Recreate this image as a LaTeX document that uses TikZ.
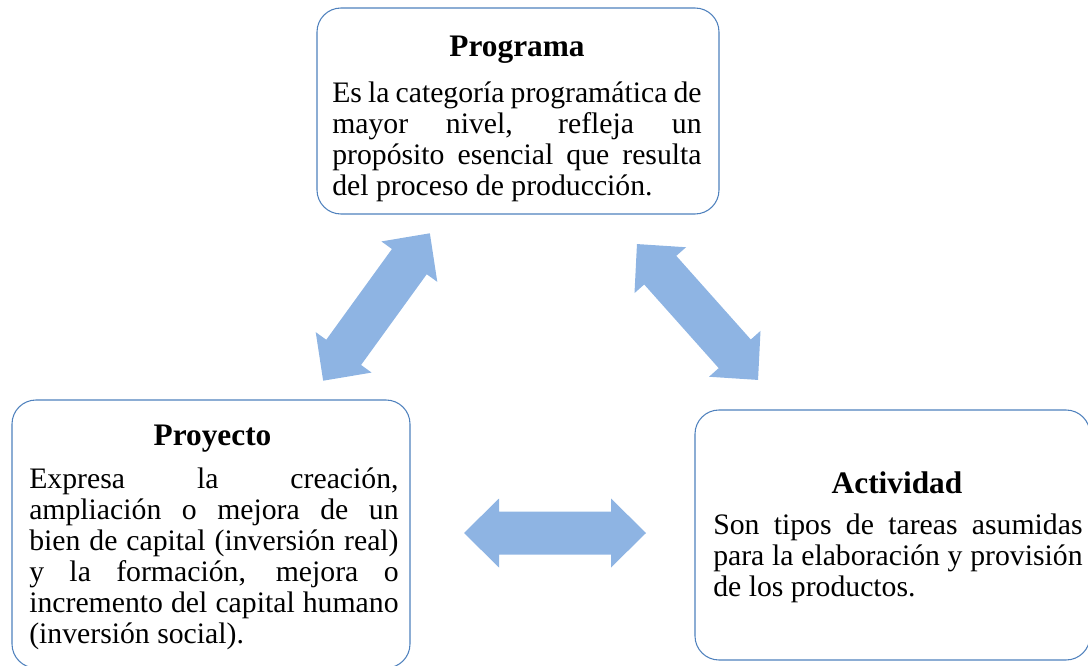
\documentclass[tikz,border=0pt]{standalone}
\usepackage{fontspec}
\setmainfont{Liberation Serif}
\usetikzlibrary{positioning}

\definecolor{bordeazul}{RGB}{79,129,189}
\definecolor{flechaazul}{RGB}{142,180,227}

\newcommand{\titulofont}{\fontsize{23.5}{28}\selectfont\bfseries}
\newcommand{\cuerpofont}{\fontsize{22.3}{23.25}\selectfont\hyphenpenalty=10000}

\begin{document}
\begin{tikzpicture}[
x=0.75pt, y=-0.75pt,
dblarrow/.pic={
	\fill[flechaazul] (-91,0) -- (-56,-34.5) -- (-56,-21.5) -- (56,-21.5) -- (56,-34.5)
	-- (91,0) -- (56,34.5) -- (56,21.5) -- (-56,21.5) -- (-56,34.5) -- cycle;
}
]

\tikzstyle{caja} = [draw=bordeazul, line width=0.8pt, rounded corners=18pt, shape=rectangle, inner sep=0pt]
\tikzstyle{titulo} = [font=\titulofont, inner sep=0pt, anchor=base]
\tikzstyle{cuerpo} = [font=\cuerpofont, text width=277pt, align=justify, inner sep=0pt, anchor=north west]

\useasboundingbox (0,0) rectangle (1088,666);

% cajas
\node[caja, minimum width=301.5pt, minimum height=154.5pt] (prog) at (518,111) {};
\node[caja, minimum width=298.5pt, minimum height=201pt] (proy) at (211,534) {};
\node[caja, minimum width=296.25pt, minimum height=187.5pt] (act) at (892.5,535) {};

% textos
\node[titulo] (progT) at (517,56.5) {Programa};
\node[cuerpo] (progB) at (332,80.5) {\strut Es la categoría programática de\linebreak
mayor nivel, refleja un\linebreak propósito esencial que resulta\linebreak
del proceso de producción.};

\node[titulo] (proyT) at (212.5,445) {Proyecto};
\node[cuerpo] (proyB) at (29,466.5) {\strut Expresa la creación,\linebreak
ampliación o mejora de un\linebreak bien de capital (inversión real)\linebreak
y la formación, mejora o\linebreak incremento del capital humano\linebreak
(inversión social).};

\node[titulo] (actT) at (897,493) {Actividad};
\node[cuerpo] (actB) at (713,512.5) {\strut Son tipos de tareas asumidas\linebreak
para la elaboración y provisión\linebreak de los productos.};

% flechas
\pic[rotate=54.1] at (376.5,307) {dblarrow};
\pic[rotate=-48.3] at (697.5,312) {dblarrow};
\pic at (555,533) {dblarrow};

\end{tikzpicture}
\end{document}
